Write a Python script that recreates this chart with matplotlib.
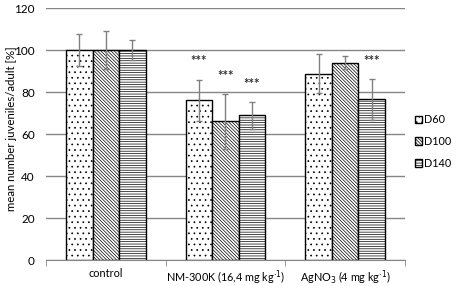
import matplotlib
matplotlib.use('Agg')
import matplotlib.pyplot as plt
import numpy as np

plt.rcParams['font.family'] = ['Lato', 'DejaVu Sans']
plt.rcParams['hatch.linewidth'] = 0.5

groups = ['control', 'NM-300K (16,4 mg kg$^{\\cdot 1}$)', 'AgNO$_3$ (4 mg kg$^{\\cdot 1}$)']
series = ['D60', 'D100', 'D140']
d60 = [100, 76, 88.7]
d100 = [100, 66, 94]
d140 = [100, 68.9, 76.5]
err60 = [7.8, 9.8, 9.3]
err100 = [9.0, 13.0, 3.2]
err140 = [4.6, 6.3, 9.6]
# significance marks: (group index, series index)
stars = [(1, 0), (1, 1), (1, 2), (2, 2)]

values = [d60, d100, d140]
errors = [err60, err100, err140]
hatches = ['...', '\\' * 10, '-' * 7]

fig = plt.figure(figsize=(4.59, 2.86), dpi=100)
ax = fig.add_axes([0.1002, 0.0909, 0.782, 0.881])

x = np.arange(len(groups))
w = 0.222
for i, (vals, errs, h, name) in enumerate(zip(values, errors, hatches, series)):
    pos = x + (i - 1) * w
    ax.bar(pos, vals, w, color='white', edgecolor='black', linewidth=1.0,
           hatch=h, label=name, zorder=2)
    ax.errorbar(pos, vals, yerr=errs, fmt='none', ecolor='#808080',
                elinewidth=1.0, capsize=2.5, capthick=1.0, zorder=3)

for g, s in stars:
    top = values[s][g] + errors[s][g]
    ax.text(x[g] + (s - 1) * w, top + 6.0, '***', ha='center', va='bottom',
            fontsize=9.5, fontweight='bold', color='#303030')

ax.set_xlim(-0.5, 2.5)
ax.set_ylim(0, 120)
ax.set_yticks(range(0, 121, 20))
ax.yaxis.grid(True, color='#868686', linewidth=1.0, zorder=0)
ax.set_axisbelow(True)
for sp in ['top', 'right', 'left']:
    ax.spines[sp].set_visible(False)
ax.spines['bottom'].set_color('#868686')
ax.spines['bottom'].set_zorder(4)
ax.tick_params(axis='y', length=0, labelsize=8.5, pad=8)
ax.set_xticks(x)
ax.set_xticklabels(groups, fontsize=7.8)
ax.set_xticks([-0.5, 0.5, 1.5, 2.5], minor=True)
ax.tick_params(axis='x', which='major', length=0, pad=6)
ax.tick_params(axis='x', which='minor', length=4, color='#868686', direction='out')
fig.text(0.024, 0.55, 'mean number juveniles/adult [%]', rotation=90,
         ha='center', va='center', fontsize=8.2)

leg = ax.legend(loc='center left', bbox_to_anchor=(1.0, 0.47), frameon=False,
                fontsize=7.8, handlelength=0.7, handleheight=0.7,
                handletextpad=0.2, labelspacing=1.0)

fig.savefig('out.png', dpi=100)
